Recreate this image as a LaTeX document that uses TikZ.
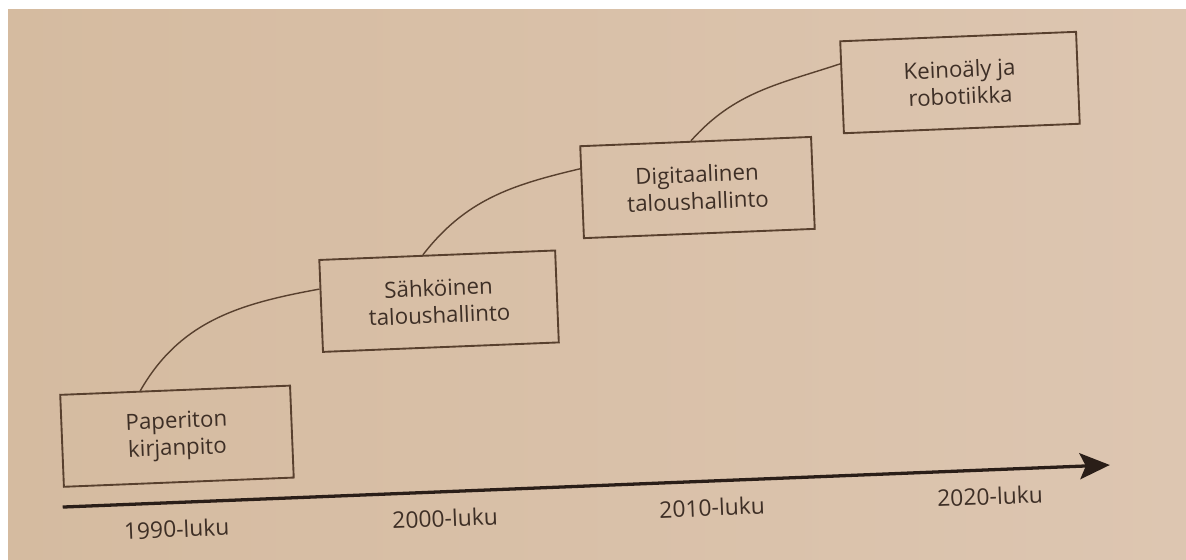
\documentclass[tikz,border=0pt]{standalone}
\usepackage{fontspec}
\setmainfont{Open Sans}
\usetikzlibrary{arrows.meta,calc}

\definecolor{paperleft}{RGB}{213,187,160}
\definecolor{paperright}{RGB}{221,198,177}
\definecolor{ink}{RGB}{62,47,38}
\definecolor{frame}{RGB}{88,64,46}
\definecolor{axisink}{RGB}{42,30,24}

\tikzset{
	stage/.style={draw=frame,line width=1.6pt,minimum height=2.76cm,align=center,text=ink,
		font=\fontsize{19}{23}\selectfont},
	link/.style={draw=frame,line width=1.2pt},
	era/.style={text=ink,font=\fontsize{19.5}{21}\selectfont},
	axis/.style={draw=axisink,line width=2.8pt,-{Stealth[length=0.9cm,width=0.78cm,inset=0.18cm]}}
}

\begin{document}
\begin{tikzpicture}[x=0.03cm,y=0.03cm]
	\useasboundingbox (0,0) rectangle (1186,559);
	\fill[white] (0,0) rectangle (1186,559);
	\shade[left color=paperleft,right color=paperright] (8,0) rectangle (1186,549);

	\begin{scope}[rotate around={2.3:(593,279.5)},transform shape]
		% the four stages
		\node[stage,minimum width=6.9cm] (paperless) at (171,139.6) {Paperiton\\kirjanpito};
		\node[stage,minimum width=7.08cm] (electronic) at (438.3,264) {Sähköinen\\taloushallinto};
		\node[stage,minimum width=6.93cm] (digital) at (701.1,367.2) {Digitaalinen\\taloushallinto};
		\node[stage,minimum width=7.08cm] (robotics) at (967.6,461.6) {Keinoäly ja\\robotiikka};

		\draw[link] ($(paperless.north west)!0.35!(paperless.north east)$) to[out=58,in=188]
			($(electronic.south west)!0.68!(electronic.north west)$);
		\draw[link] ($(electronic.north west)!0.44!(electronic.north east)$) to[out=50,in=191]
			($(digital.south west)!0.75!(digital.north west)$);
		\draw[link] ($(digital.north west)!0.48!(digital.north east)$) to[out=46,in=196]
			($(robotics.south west)!0.75!(robotics.north west)$);

		% time axis
		\coordinate (axisstart) at (54,73.4);
		\coordinate (axisend) at (1102,73.4);
		\draw[axis] (axisstart) -- (axisend);
		\node[era] (d1990) at (167,47) {1990-luku};
		\node[era] (d2000) at (435.6,47) {2000-luku};
		\node[era] (d2010) at (702.8,47) {2010-luku};
		\node[era] (d2020) at (981,47) {2020-luku};
	\end{scope}
\end{tikzpicture}
\end{document}
